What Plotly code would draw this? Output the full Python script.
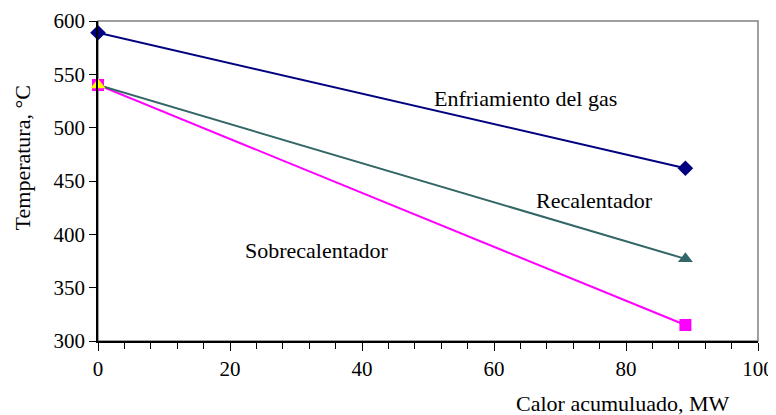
import plotly.graph_objects as go

x_vals = [0, 89]
gas = [589, 462]
recal = [540, 377]
sobre = [540, 315]

x_ticks = [0, 20, 40, 60, 80, 100]
y_ticks = [300, 350, 400, 450, 500, 550, 600]

font = "Liberation Serif, Times New Roman, serif"
fs = 22
tfs = 21

fig = go.Figure()
fig.add_trace(go.Scatter(x=x_vals, y=gas, mode="lines+markers",
                         line=dict(color="#000080", width=2),
                         marker=dict(symbol="diamond", size=12, color="#000080"),
                         cliponaxis=False, showlegend=False))
fig.add_trace(go.Scatter(x=x_vals, y=sobre, mode="lines+markers",
                         line=dict(color="#FF00FF", width=2),
                         marker=dict(symbol="square", size=12, color="#FF00FF"),
                         cliponaxis=False, showlegend=False))
fig.add_trace(go.Scatter(x=x_vals, y=recal, mode="lines+markers",
                         line=dict(color="#336666", width=2),
                         marker=dict(symbol="triangle-up", size=13, color=["#FFFF00", "#336666"]),
                         cliponaxis=False, showlegend=False))

fig.add_annotation(x=64.8, y=527, text="Enfriamiento del gas", showarrow=False,
                   font=dict(family=font, size=fs, color="black"))
fig.add_annotation(x=75.2, y=432, text="Recalentador", showarrow=False,
                   font=dict(family=font, size=fs, color="black"))
fig.add_annotation(x=33.2, y=385, text="Sobrecalentador", showarrow=False,
                   font=dict(family=font, size=fs, color="black"))
fig.add_annotation(x=0.959, xref="paper", xanchor="right", y=-0.194, yref="paper", yanchor="middle",
                   text="Calor acumuluado, MW", showarrow=False,
                   font=dict(family=font, size=fs, color="black"))
fig.add_annotation(x=-0.114, xref="paper", xanchor="center", y=0.573, yref="paper", yanchor="middle",
                   text="Temperatura, °C", textangle=-90, showarrow=False,
                   font=dict(family=font, size=fs, color="black"))

fig.update_layout(
    width=768, height=407,
    margin=dict(l=90, r=18, t=13, b=74),
    paper_bgcolor="white", plot_bgcolor="white",
    font=dict(family=font, size=tfs, color="black"),
    shapes=[dict(type="rect", xref="paper", yref="paper", x0=0, x1=1, y0=0, y1=1,
                 line=dict(color="#808080", width=1.5), layer="below")],
)
fig.update_xaxes(range=[0, 100], tickvals=x_ticks, ticks="outside", ticklen=8,
                 tickcolor="black", showline=True, linecolor="black", linewidth=1.5,
                 showgrid=False, zeroline=False, automargin=False, ticklabeloverflow="allow",
                 minor=dict(dtick=4, ticks="outside", ticklen=6, tickcolor="black", showgrid=False),
                 tickfont=dict(family=font, size=tfs))
fig.update_yaxes(range=[300, 600], tickvals=y_ticks, ticks="outside", ticklen=7,
                 tickcolor="black", showline=True, linecolor="black", linewidth=1.5,
                 showgrid=False, zeroline=False, automargin=False, ticklabeloverflow="allow",
                 tickfont=dict(family=font, size=tfs))

fig.write_html("out.html")
